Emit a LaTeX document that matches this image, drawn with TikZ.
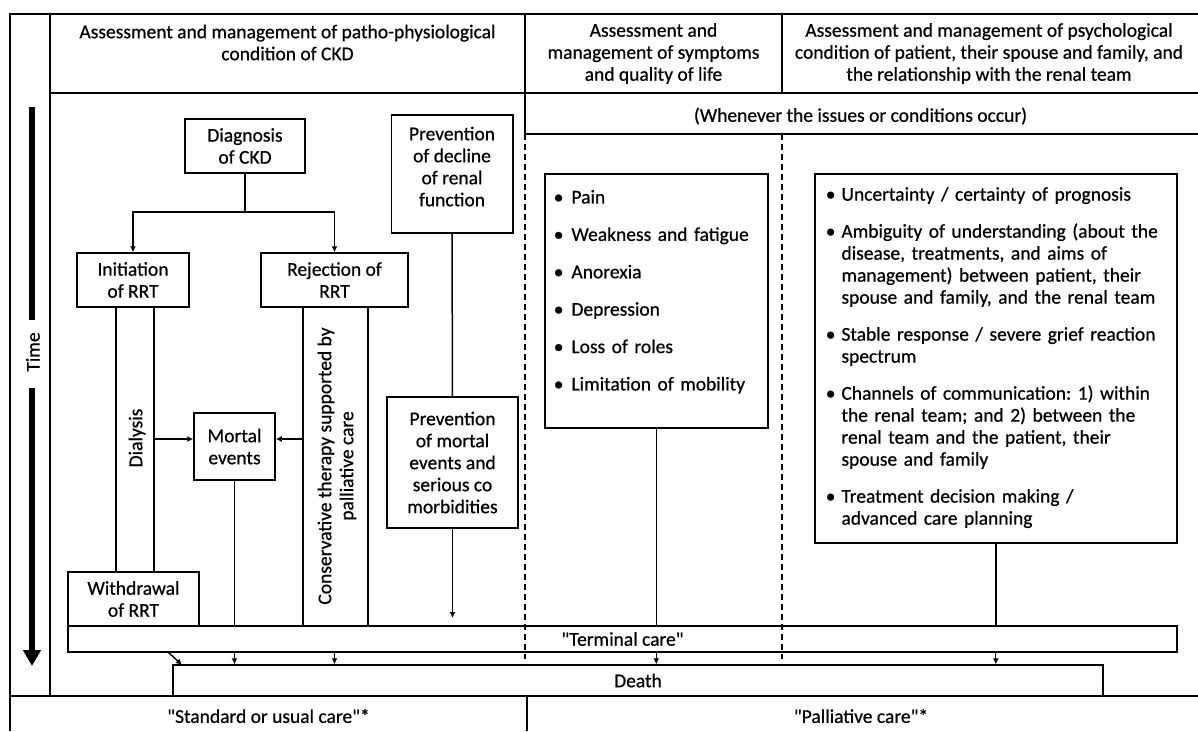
\documentclass[tikz,border=0pt]{standalone}
\usepackage{fontspec}
\setmainfont{Carlito}
\newfontfamily\dkfont{Carlito}[FakeBold=0.6]
\usetikzlibrary{arrows.meta,calc}
\begin{document}
\frenchspacing
\begin{tikzpicture}[x=1pt,y=-1pt,
  every node/.style={font=\dkfont\fontsize{19.5}{22}\selectfont, inner sep=0pt},
  ln/.style={line width=1.5pt},
  box/.style={draw, line width=1.5pt, align=center},
  arr/.style={line width=1.4pt, -{Latex[length=6pt,width=6pt]}},
  dsh/.style={line width=1.2pt, dash pattern=on 6pt off 4pt},
  lst/.style={draw, line width=1.5pt, anchor=north west, align=left, inner xsep=9pt},
  timebar/.style={line width=6pt}
]
\useasboundingbox (0,0) rectangle (1198,731);
\fill[white] (0,0) rectangle (1198,731);

% frame
\draw[ln] (10,731) -- (10,14) -- (1198,14);
\draw[ln] (50,14) -- (50,696);
\draw[ln] (50,93) -- (1198,93);
\draw[ln] (525,14) -- (525,134);
\draw[ln] (782,14) -- (782,93);
\draw[ln] (525,134) -- (1198,134);
\draw[ln] (10,696) -- (1198,696);
\draw[ln] (527,696) -- (527,731);
\draw[dsh] (525,134) -- (525,659);
\draw[dsh] (782,134) -- (782,659);

% headers
\node[align=center] (h1) at (287.5,42.5) {Assessment and management of patho-physiological\\condition of CKD};
\node[align=center] (h2) at (653.5,53.5) {Assessment and\\management of symptoms\\and quality of life};
\node[align=center] (h3) at (989,53.5) {Assessment and management of psychological\\condition of patient, their spouse and family, and\\the relationship with the renal team};
\node (wh) at (860.5,116) {(Whenever the issues or conditions occur)};

% time arrow
\node[rotate=90] (time) at (33,352) {Time};
\coordinate (t0) at (32,107);
\coordinate (t1) at (32,320);
\coordinate (t2) at (32,388);
\coordinate (t3) at (32,666);
\draw[timebar] (t0) -- (t1);
\draw[timebar, -{Triangle[length=16pt,width=17pt]}] (t2) -- (t3);

% boxes
\node[box, minimum width=120pt, minimum height=54pt] (diag) at (245,146) {Diagnosis\\of CKD};
\node[box, minimum width=112pt, minimum height=54pt] (init) at (133,280) {Initiation\\of RRT};
\node[box, minimum width=147pt, minimum height=54pt] (rej) at (334.5,280) {Rejection of\\RRT};
\node[box, minimum width=131pt, minimum height=54pt] (wd) at (133.5,599) {Withdrawal\\of RRT};
\node[box, minimum width=81pt, minimum height=67pt] (mort) at (234.5,446.5) {Mortal\\events};
\node[box, minimum width=121.5pt, minimum height=118pt] (pd) at (452,174) {Prevention\\of decline\\of renal\\function\rule[-15pt]{0pt}{15pt}};
\node[box, minimum width=131pt, minimum height=131pt] (pm) at (452.5,462.5) {Prevention\\of mortal\\events and\\serious co\\morbidities};
\node[box, minimum width=1109pt, minimum height=26pt] (term) at (622.5,639) {\textquotedbl Terminal care\textquotedbl};
\node[box, minimum width=930pt, minimum height=31pt] (death) at (638,680.5) {Death};

\node (std) at (268.5,716) {\textquotedbl Standard or usual care\textquotedbl*};
\node (pal) at (861,716) {\textquotedbl Palliative care\textquotedbl*};

% lists
\node[lst, text width=205pt, minimum height=254pt] (pain) at (544,173) {%
\begin{tabular}{@{}l@{\hspace{8pt}}l@{}}
\textbullet & Pain\\[15.4pt]
\textbullet & Weakness and fatigue\\[15.4pt]
\textbullet & Anorexia\\[15.4pt]
\textbullet & Depression\\[15.4pt]
\textbullet & Loss of roles\\[15.4pt]
\textbullet & Limitation of mobility\rule[-23pt]{0pt}{23pt}
\end{tabular}};
\node[lst, text width=340pt, minimum height=369pt, inner xsep=11pt] (psy) at (814,173) {%
\begin{tabular}{@{}l@{\hspace{6pt}}l@{}}
\textbullet & Uncertainty / certainty of prognosis\\[15pt]
\textbullet & Ambiguity of understanding (about the\\
 & disease, treatments, and aims of\\
 & management) between patient, their\\
 & spouse and family, and the renal team\\[15pt]
\textbullet & Stable response / severe grief reaction\\
 & spectrum\\[15pt]
\textbullet & Channels of communication: 1) within\\
 & the renal team; and 2) between the\\
 & renal team and the patient, their\\
 & spouse and family\\[15pt]
\textbullet & Treatment decision making /\\
 & advanced care planning
\end{tabular}};

% connectors
\coordinate (j) at (245,212);
\draw[ln] (diag) -- (j);
\draw[arr] (j) -| (init);
\draw[arr] (j) -| (rej);

\coordinate (i1) at ([xshift=-17pt]init.south);
\coordinate (i2) at ([xshift=21pt]init.south);
\draw[ln] (i1) -- (i1 |- wd.north);
\draw[ln] (i2) -- (i2 |- wd.north);
\node[rotate=90] (dial) at (137,438) {Dialysis};
\draw[arr] (i2 |- 0,439) -- (mort.west |- 0,439);

\coordinate (r1) at ([xshift=-31.5pt]rej.south);
\coordinate (r2) at ([xshift=33.5pt]rej.south);
\draw[ln] (r1) -- (r1 |- term.north);
\draw[ln] (r2) -- (r2 |- term.north);
\draw[arr] (r1 |- 0,439) -- (mort.east |- 0,439);
\node[rotate=90, align=center] (cons) at (337,466) {Conservative therapy supported by\\palliative care};

\draw[ln] (mort) -- (mort.south |- term.north);
\draw[ln] (pd) -- (pm);
\coordinate (pmEnd) at (pm.south |- 0,618);
\draw[arr] (pm) -- (pmEnd);

\draw[ln] (pain) -- (pain.south |- term.north);
\draw[ln] (psy) -- (psy.south |- term.north);

\coordinate (a0s) at (168,652);
\coordinate (a0e) at (182,665);
\draw[arr] (a0s) -- (a0e);
\draw[arr] (mort.south |- term.south) -- (mort.south |- death.north);
\draw[arr] (rej.south |- term.south) -- (rej.south |- death.north);
\draw[arr] (pain.south |- term.south) -- (pain.south |- death.north);
\draw[arr] (psy.south |- term.south) -- (psy.south |- death.north);
\end{tikzpicture}
\end{document}
